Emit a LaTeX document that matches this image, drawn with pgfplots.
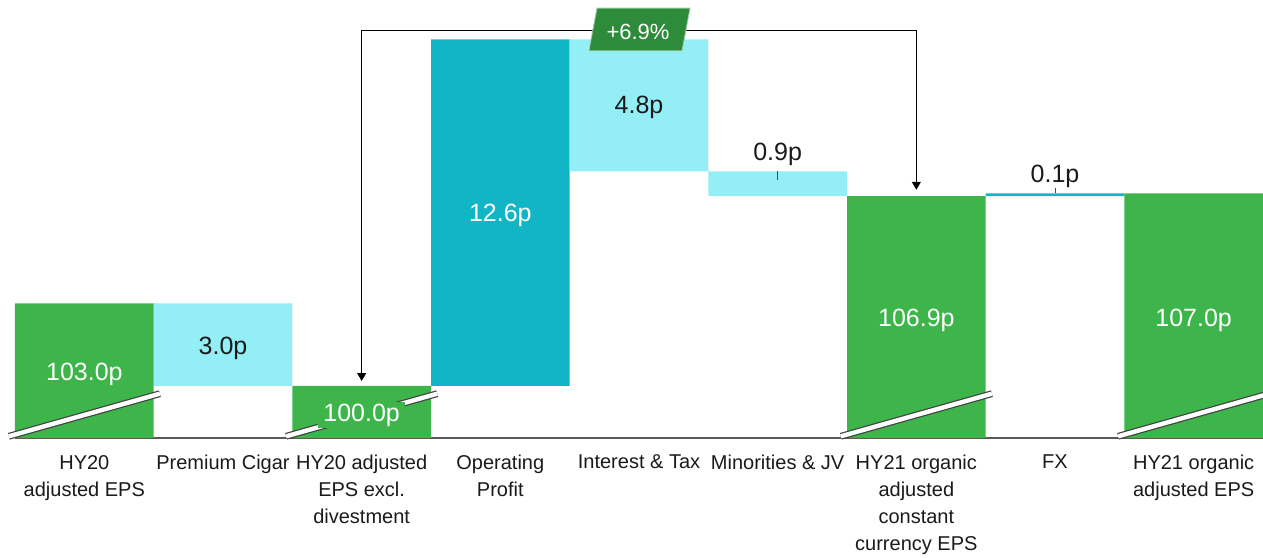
\documentclass[border=0pt]{standalone}
\usepackage{fontspec}
\setmainfont{Liberation Sans}
\usepackage{pgfplots}
\pgfplotsset{compat=1.18}
\usetikzlibrary{arrows.meta}
\definecolor{cgreen}{HTML}{3DB54B}
\definecolor{clight}{HTML}{93EEF5}
\definecolor{cteal}{HTML}{11B5C6}
\definecolor{cdkgreen}{HTML}{2E8B3A}
\definecolor{ctext}{HTML}{1A1A1A}
\tikzset{brk/.style={black!75, line width=3.4pt}, brkw/.style={white, line width=2.2pt},
  val/.style={font=\fontsize{12.5}{15}\selectfont}}
\begin{document}
\begin{tikzpicture}
\begin{axis}[
  scale only axis, width=624pt, height=219pt,
  xmin=-0.5, xmax=8.5, ymin=98.109, ymax=114.03,
  ybar stacked, bar width=1,
  axis y line=none, axis x line*=bottom,
  x axis line style={-, draw=black!65, line width=0.8pt},
  xtick={0,...,8}, xtick style={draw=none}, major tick length=0pt,
  xticklabels={{HY20\\adjusted EPS},{Premium Cigar},{HY20 adjusted\\EPS excl.\\divestment},{Operating\\Profit},{Interest \& Tax},{Minorities \& JV},{HY21 organic\\adjusted\\constant\\currency EPS},{FX},{HY21 organic\\adjusted EPS}},
  xticklabel style={align=center, anchor=north, font=\fontsize{10}{13.5}\selectfont, text=ctext, yshift=-5pt},
]
% invisible base
\addplot[draw=none, fill=none, forget plot] coordinates {(0,0) (1,100) (2,0) (3,100) (4,107.8) (5,106.9) (6,0) (7,106.9) (8,0)};
% totals
\addplot[draw=none, fill=cgreen] coordinates {(0,103.0) (1,0) (2,100.0) (3,0) (4,0) (5,0) (6,106.9) (7,0) (8,107.0)};
% decreases
\addplot[draw=none, fill=clight] coordinates {(0,0) (1,3.0) (2,0) (3,0) (4,4.8) (5,0.9) (6,0) (7,0) (8,0)};
% increases
\addplot[draw=none, fill=cteal] coordinates {(0,0) (1,0) (2,0) (3,12.6) (4,0) (5,0) (6,0) (7,0.1) (8,0)};

% anchor points for annotations
\coordinate (s0a) at (axis cs:-0.545,98.17); \coordinate (s0b) at (axis cs:0.545,99.72);
\coordinate (s2a) at (axis cs:1.455,98.17);  \coordinate (s2b) at (axis cs:2.545,99.72);
\coordinate (s6a) at (axis cs:5.455,98.17);  \coordinate (s6b) at (axis cs:6.545,99.72);
\coordinate (s8a) at (axis cs:7.455,98.17);  \coordinate (s8b) at (axis cs:8.545,99.72);
\coordinate (b1) at (axis cs:2,100.18); \coordinate (b2) at (axis cs:2,112.92);
\coordinate (b3) at (axis cs:6,112.92); \coordinate (b4) at (axis cs:6,107.13);
\coordinate (p1) at (axis cs:3.697,113.734); \coordinate (p2) at (axis cs:4.368,113.734);
\coordinate (p3) at (axis cs:4.310,112.182); \coordinate (p4) at (axis cs:3.639,112.182);
\coordinate (pt) at (axis cs:3.993,112.884);
\coordinate (l5a) at (axis cs:5,107.8); \coordinate (l5b) at (axis cs:5,107.47);
\coordinate (l7a) at (axis cs:7,107.0); \coordinate (l7b) at (axis cs:7,107.2);
\coordinate (v0) at (axis cs:0,100.436);
\coordinate (v1) at (axis cs:1,101.38);
\coordinate (v2) at (axis cs:2,98.945);
\coordinate (v3) at (axis cs:3,106.218);
\coordinate (v4) at (axis cs:4,110.145);
\coordinate (v5) at (axis cs:5,108.436);
\coordinate (v6) at (axis cs:6,102.40);
\coordinate (v7) at (axis cs:7,107.61);
\coordinate (v8) at (axis cs:8,102.40);
\coordinate (BL) at (rel axis cs:0,0);
\coordinate (TR) at (rel axis cs:1,1);
\end{axis}

% axis break stripes
\foreach \s in {0,2,6,8}{
  \draw[brk] (s\s a) -- (s\s b);
  \draw[brkw] (s\s a) -- (s\s b);
}
% bracket with arrows
\draw[black, line width=0.8pt, line join=miter, {Triangle[length=4pt,width=4.4pt]}-{Triangle[length=4pt,width=4.4pt]}]
  (b1) -- (b2) -- (b3) -- (b4);
\fill[cdkgreen, draw=white!55!cdkgreen, line width=0.4pt] (p1) -- (p2) -- (p3) -- (p4) -- cycle;
\node[text=white, font=\fontsize{11}{13}\selectfont] at (pt) {+6.9\%};
% leader ticks
\draw[black!70, line width=0.5pt] (l5a) -- (l5b);
\draw[black!70, line width=0.5pt] (l7a) -- (l7b);
% value labels
\node[val, text=white] at (v0) {103.0p};
\node[val, text=ctext] at (v1) {3.0p};
\node[val, text=white, fill=cgreen, inner xsep=2.7pt, inner ysep=1pt] at (v2) {100.0p};
\node[val, text=white] at (v3) {12.6p};
\node[val, text=ctext] at (v4) {4.8p};
\node[val, text=ctext] at (v5) {0.9p};
\node[val, text=white] at (v6) {106.9p};
\node[val, text=ctext] at (v7) {0.1p};
\node[val, text=white] at (v8) {107.0p};

\pgfresetboundingbox
\path[use as bounding box] ([shift={(-7.5pt,-59.5pt)}]BL) rectangle (TR);
\end{tikzpicture}
\end{document}
